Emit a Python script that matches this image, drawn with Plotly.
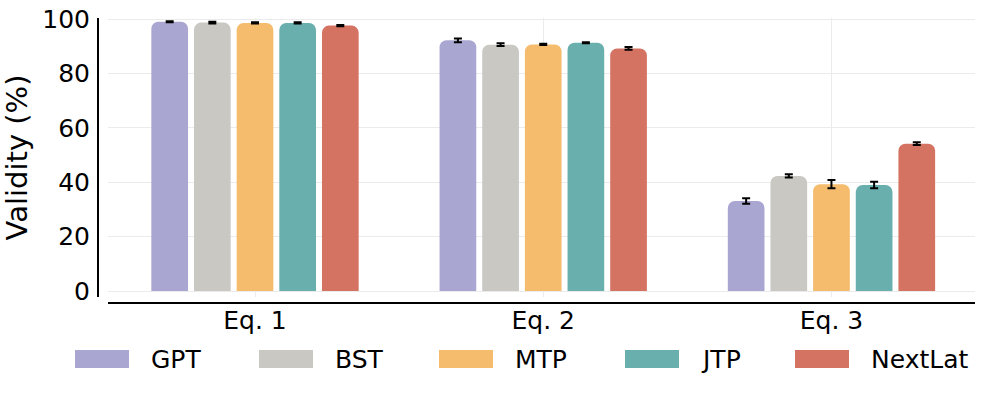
import plotly.graph_objects as go

categories = ["Eq. 1", "Eq. 2", "Eq. 3"]
models = ["GPT", "BST", "MTP", "JTP", "NextLat"]
colors = ["#a9a6d1", "#c9c8c3", "#f4bc6c", "#69afad", "#d57363"]

gpt = [99.0, 92.2, 33.1]
bst = [98.7, 90.6, 42.3]
mtp = [98.6, 90.7, 39.3]
jtp = [98.6, 91.3, 39.0]
nextlat = [97.6, 89.2, 54.2]

gpt_err = [0.2, 0.7, 1.0]
bst_err = [0.3, 0.5, 0.6]
mtp_err = [0.2, 0.2, 1.5]
jtp_err = [0.2, 0.2, 1.2]
nextlat_err = [0.2, 0.5, 0.5]

values = [gpt, bst, mtp, jtp, nextlat]
errors = [gpt_err, bst_err, mtp_err, jtp_err, nextlat_err]

W, H = 996, 394
FONT = "DejaVu Sans"

fig = go.Figure()
for name, col, v, e in zip(models, colors, values, errors):
    fig.add_trace(go.Bar(
        x=categories, y=v, name=name, showlegend=False,
        marker=dict(color=col, cornerradius=7, line=dict(width=0)),
        error_y=dict(type="data", array=e, visible=True, color="black",
                     thickness=2, width=4),
    ))

# Legend drawn as wide swatches + labels (matplotlib-style), one per model
legend_left = [75, 259, 439, 625, 795]   # px, swatch left edges
sw_w, sw_h, txt_gap, leg_y = 54, 18, 20, 359
for name, col, x0 in zip(models, colors, legend_left):
    fig.add_shape(type="rect", xref="paper", yref="paper",
                  x0=x0 / W, x1=(x0 + sw_w) / W,
                  y0=1 - (leg_y + sw_h / 2) / H, y1=1 - (leg_y - sw_h / 2) / H,
                  fillcolor=col, line=dict(width=0), layer="above")
    fig.add_annotation(xref="paper", yref="paper",
                       x=(x0 + sw_w + txt_gap) / W, y=1 - leg_y / H,
                       xanchor="left", yanchor="middle", showarrow=False,
                       text=name, font=dict(size=25, family=FONT, color="black"))

fig.update_layout(
    width=W, height=H,
    margin=dict(l=0, r=0, t=0, b=0),
    paper_bgcolor="white", plot_bgcolor="white",
    barmode="group", bargap=0.26, bargroupgap=0.14,
    font=dict(family=FONT, size=25, color="black"),
    showlegend=False,
    xaxis=dict(domain=[108 / W, 975 / W], anchor="free", position=1 - 303 / H,
               range=[-0.51, 2.498], showline=True, linecolor="black", linewidth=2,
               ticks="", ticklabelstandoff=-5, automargin=False,
               showgrid=True, gridcolor="#ebebeb", gridwidth=1,
               tickfont=dict(size=25), zeroline=False),
    yaxis=dict(domain=[1 - 297 / H, 1 - 18 / H], anchor="free", position=98 / W,
               range=[-2.2, 100.4], tickvals=[0, 20, 40, 60, 80, 100],
               showline=True, linecolor="black", linewidth=2, automargin=False,
               ticks="", ticklabelstandoff=2,
               showgrid=True, gridcolor="#ebebeb", gridwidth=1,
               zeroline=False, tickfont=dict(size=25),
               title=dict(text="Validity (%)", font=dict(size=29), standoff=6)),
)

fig.write_html("out.html", config={"displayModeBar": False},
               post_script="document.body.style.margin='0';document.body.style.overflow='hidden';")
